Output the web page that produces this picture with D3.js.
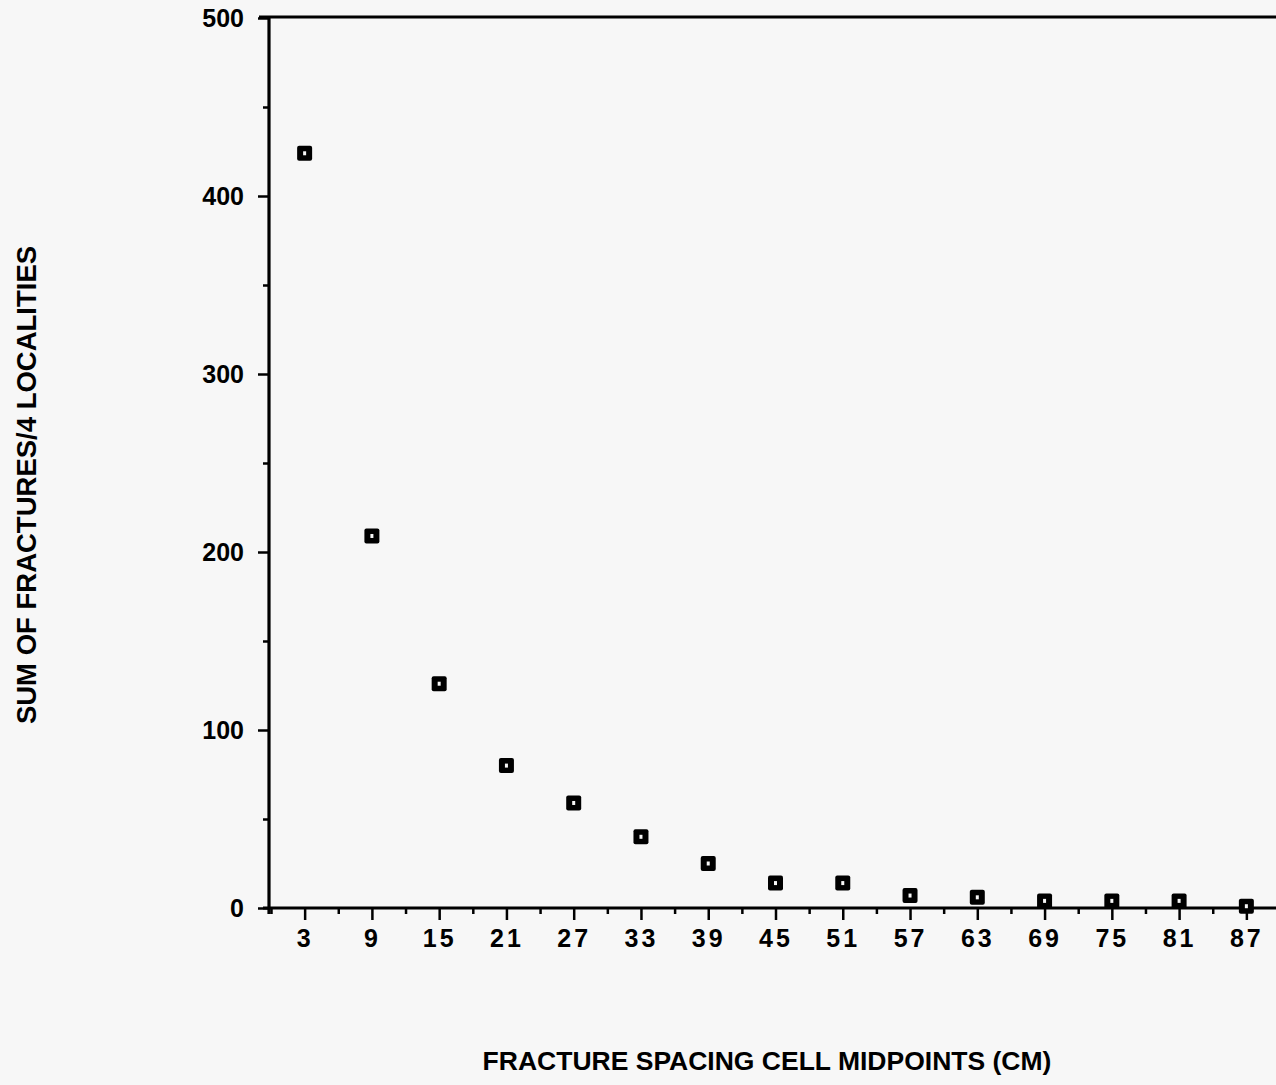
<!DOCTYPE html>
<html>
<head>
<meta charset="utf-8">
<script src="https://cdn.jsdelivr.net/npm/d3@7"></script>
<style>
  html, body { margin: 0; padding: 0; background: #f7f7f7; }
  svg { display: block; }
  text { font-family: "Liberation Sans", Arial, Helvetica, sans-serif; font-weight: bold; fill: #000; }
</style>
</head>
<body>
<svg id="chart" width="1276" height="1085"></svg>
<script>
// Fracture spacing histogram: cell midpoints (cm) and summed counts over four localities
const midpoints = [3, 9, 15, 21, 27, 33, 39, 45, 51, 57, 63, 69, 75, 81, 87];
const fractureSums = [424, 209, 126, 80, 59, 40, 25, 14, 14, 7, 6, 4, 4, 4, 1];
const yTickValues = [0, 100, 200, 300, 400, 500];
const yMinorValues = [50, 150, 250, 350, 450];
const xMinorValues = [0, 6, 12, 18, 24, 30, 36, 42, 48, 54, 60, 66, 72, 78, 84, 90];

const svg = d3.select("#chart");
const W = 1276, H = 1085;

const x = d3.scaleLinear().domain([0, 90]).range([271, 1280]);
const y = d3.scaleLinear().domain([0, 500]).range([908, 18]);

const styleLabels = g => g.selectAll("text")
  .attr("font-size", 25)
  .attr("font-family", "Liberation Sans, Arial, sans-serif").attr("font-weight", "bold")
  .attr("fill", "#000");

// Minor ticks on the x axis (short)
svg.append("g")
  .attr("transform", `translate(0,${y(0)})`)
  .call(d3.axisBottom(x).tickValues(xMinorValues).tickSize(6).tickFormat(""))
  .call(g => g.select(".domain").remove())
  .call(g => g.selectAll("line").attr("stroke", "#000").attr("stroke-width", 2.5));

// Major ticks and labels on the x axis
svg.append("g")
  .attr("transform", `translate(0,${y(0)})`)
  .call(d3.axisBottom(x).tickValues(midpoints).tickSize(12).tickPadding(9).tickFormat(d3.format("d")))
  .call(g => g.select(".domain").remove())
  .call(g => g.selectAll("line").attr("stroke", "#000").attr("stroke-width", 2.5))
  .call(styleLabels)
  .call(g => g.selectAll("text").attr("letter-spacing", 3));

// Minor ticks on the y axis
svg.append("g")
  .attr("transform", `translate(${x(0) - 2},0)`)
  .call(d3.axisLeft(y).tickValues(yMinorValues).tickSize(6).tickFormat(""))
  .call(g => g.select(".domain").remove())
  .call(g => g.selectAll("line").attr("stroke", "#000").attr("stroke-width", 2.5));

// Major ticks and labels on the y axis
svg.append("g")
  .attr("transform", `translate(${x(0) - 2},0)`)
  .call(d3.axisLeft(y).tickValues(yTickValues).tickSize(11).tickPadding(14).tickFormat(d3.format("d")))
  .call(g => g.select(".domain").remove())
  .call(g => g.selectAll("line").attr("stroke", "#000").attr("stroke-width", 2.5))
  .call(styleLabels);

// Frame: left axis, bottom axis and top border
const frame = svg.append("g").attr("stroke", "#000").attr("stroke-width", 3.2).attr("fill", "none");
frame.append("line").attr("x1", x(0) - 2).attr("x2", x(0) - 2).attr("y1", y(500) - 2).attr("y2", y(0) + 6);
frame.append("line").attr("x1", x(0) - 8).attr("x2", W).attr("y1", y(0)).attr("y2", y(0));
frame.append("line").attr("x1", x(0) - 12).attr("x2", W).attr("y1", y(500) - 1).attr("y2", y(500) - 1);

// Data markers: heavy squares with a small open centre
const S = 15;
const pts = svg.append("g").selectAll("g")
  .data(midpoints.map((m, i) => ({ m, v: fractureSums[i] })))
  .join("g")
  .attr("transform", d => `translate(${x(d.m)},${y(d.v)})`);
pts.append("rect")
  .attr("x", -S / 2).attr("y", -S / 2).attr("width", S).attr("height", S)
  .attr("rx", 2).attr("fill", "#000");
pts.append("rect")
  .attr("x", -1.5).attr("y", -2).attr("width", 3).attr("height", 4)
  .attr("fill", "#f7f7f7");

// Axis titles
svg.append("text")
  .attr("x", 767).attr("y", 1070)
  .attr("text-anchor", "middle")
  .attr("font-size", 26.5)
  .text("FRACTURE SPACING CELL MIDPOINTS (CM)");

svg.append("text")
  .attr("transform", "translate(36,485) rotate(-90)")
  .attr("text-anchor", "middle")
  .attr("font-size", 27.5)
  .text("SUM OF FRACTURES/4 LOCALITIES");
</script>
</body>
</html>
